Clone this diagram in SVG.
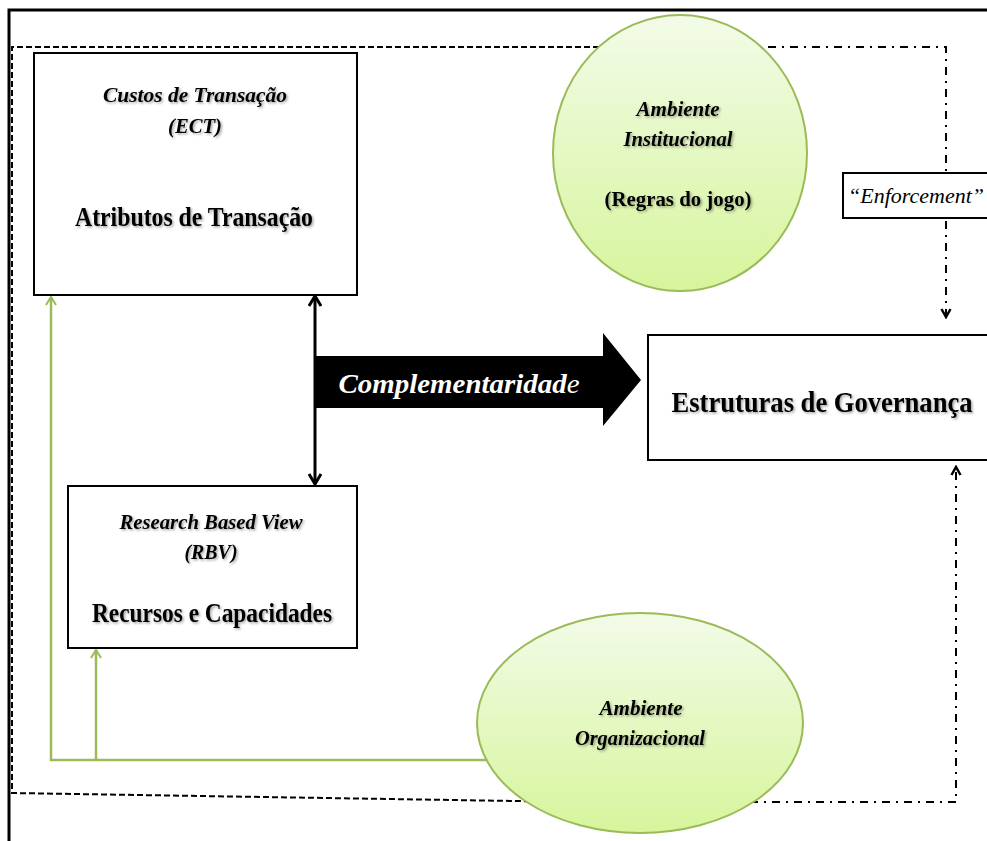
<svg xmlns="http://www.w3.org/2000/svg" width="987" height="841" viewBox="0 0 987 841">
<style>
.box{fill:#fff;stroke:#000;stroke-width:2}
.dash{fill:none;stroke:#000;stroke-width:2;stroke-dasharray:6 3}
.dd{fill:none;stroke:#000;stroke-width:2;stroke-dasharray:8 6 2 6}
.green{fill:none;stroke:#9bbb59;stroke-width:2.5}
.ell{stroke:#9bbb59;stroke-width:2;fill:url(#gg)}
text{font-family:"Liberation Serif","Times New Roman",serif;text-anchor:middle;fill:#000}
.it{font-style:italic;font-weight:bold;font-size:21px}
.b{font-weight:bold;font-size:27px}
.sh{filter:url(#sh)}
</style>
<defs>
<linearGradient id="gg" x1="0" y1="0" x2="0" y2="1">
<stop offset="0" stop-color="#f3fbe8"/>
<stop offset="1" stop-color="#d6f59c"/>
</linearGradient>
<filter id="sh" x="-10%" y="-30%" width="120%" height="160%">
<feDropShadow dx="1.5" dy="1.5" stdDeviation="1" flood-color="#000" flood-opacity="0.35"/>
</filter>
<marker id="ga" markerWidth="12" markerHeight="12" refX="10" refY="6" orient="auto" markerUnits="userSpaceOnUse" viewBox="0 0 12 12">
<path d="M2,1 L10,6 L2,11" fill="none" stroke="#9bbb59" stroke-width="2"/>
</marker>
<marker id="ba" markerWidth="14" markerHeight="14" refX="12" refY="7" orient="auto-start-reverse" markerUnits="userSpaceOnUse" viewBox="0 0 14 14">
<path d="M2,1 L12,7 L2,13" fill="none" stroke="#000" stroke-width="3"/>
</marker>
<marker id="da" markerWidth="12" markerHeight="12" refX="10" refY="6" orient="auto" markerUnits="userSpaceOnUse" viewBox="0 0 12 12">
<path d="M2,1.5 L10,6 L2,10.5" fill="none" stroke="#000" stroke-width="2.5"/>
</marker>
</defs>
<rect width="987" height="841" fill="#fff"/>
<!-- outer frame -->
<path d="M987,10 L9,10 L9,841" fill="none" stroke="#000" stroke-width="3"/>
<g id="connectors">
<!-- dashed boundary -->
<path class="dash" d="M680,47 L12,47 L12,793 L640,803"/>
<path class="dd" d="M680,47 L946,47 L946,317" marker-end="url(#da)"/>
<path class="dd" d="M640,802 L956,802 L956,467" marker-end="url(#da)"/>
<!-- green lines -->
<path class="green" d="M560,760 L51,760 L51,297" marker-end="url(#ga)"/>
<path class="green" d="M96,760 L96,650" marker-end="url(#ga)"/>
<!-- double arrow -->
<path d="M315,296 L315,484" fill="none" stroke="#000" stroke-width="3" marker-start="url(#ba)" marker-end="url(#ba)"/>
</g>
<g id="complementaridade">
<path d="M316,356 L603,356 L603,333 L641,380 L603,426 L603,408 L316,408 Z" fill="#000"/>
<text x="459" y="393" textLength="241" lengthAdjust="spacingAndGlyphs" style="font-size:28px;font-style:italic;font-weight:bold;fill:#fff;text-anchor:middle">Complementaridad<tspan style="font-weight:normal">e</tspan></text>
</g>
<g id="atributos">
<rect class="box" x="34" y="53" width="323" height="242"/>
<text class="it sh" x="195" y="102" textLength="184" lengthAdjust="spacingAndGlyphs">Custos  de Transação</text>
<text class="it sh" x="195" y="133" textLength="54" lengthAdjust="spacingAndGlyphs">(ECT)</text>
<text class="b sh" x="194" y="226" textLength="238" lengthAdjust="spacingAndGlyphs">Atributos de Transação</text>
</g>
<g id="recursos">
<rect class="box" x="68" y="486" width="289" height="162"/>
<text class="it sh" x="211" y="529" textLength="183" lengthAdjust="spacingAndGlyphs">Research Based View</text>
<text class="it sh" x="211" y="559" textLength="53" lengthAdjust="spacingAndGlyphs">(RBV)</text>
<text class="b sh" x="212" y="622" textLength="240" lengthAdjust="spacingAndGlyphs">Recursos e Capacidades</text>
</g>
<g id="governanca">
<rect class="box" x="648" y="335" width="345" height="125"/>
<text class="sh" x="822" y="412" textLength="301" lengthAdjust="spacingAndGlyphs" style="font-weight:bold;font-size:30px">Estruturas de Governança</text>
</g>
<g id="enforcement">
<rect class="box" x="843" y="173" width="150" height="45"/>
<text x="916" y="203" textLength="136" lengthAdjust="spacingAndGlyphs" style="font-style:italic;font-size:21px">“Enforcement”</text>
</g>
<g id="ambiente-institucional">
<ellipse class="ell" cx="680" cy="153" rx="127" ry="138"/>
<text class="it sh" x="678" y="116" textLength="83" lengthAdjust="spacingAndGlyphs">Ambiente</text>
<text class="it sh" x="678" y="146" textLength="109" lengthAdjust="spacingAndGlyphs">Institucional</text>
<text class="sh" x="678" y="206" textLength="147" lengthAdjust="spacingAndGlyphs" style="font-weight:bold;font-size:21px">(Regras do jogo)</text>
</g>
<g id="ambiente-organizacional">
<ellipse class="ell" cx="640" cy="723" rx="163" ry="110"/>
<text class="it sh" x="641" y="715" textLength="83" lengthAdjust="spacingAndGlyphs">Ambiente</text>
<text class="it sh" x="640" y="745" textLength="130" lengthAdjust="spacingAndGlyphs">Organizacional</text>
</g>
</svg>
